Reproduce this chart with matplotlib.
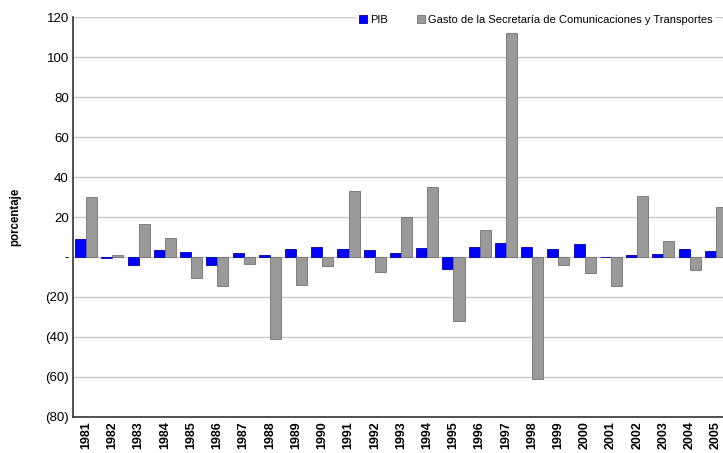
import numpy as np
import matplotlib
matplotlib.use("Agg")
from matplotlib import pyplot as plt

plt.rcParams['font.family'] = ['Liberation Sans', 'DejaVu Sans']

years = [str(y) for y in range(1981, 2006)]
pib = [8.8, -0.6, -4.2, 3.6, 2.6, -3.8, 1.9, 1.2, 4.2, 5.1, 4.2, 3.6, 2.0,
       4.4, -6.2, 5.2, 6.8, 5.0, 3.8, 6.6, -0.2, 0.8, 1.4, 4.2, 3.0]
gasto = [30.2, 0.8, 16.6, 9.5, -10.5, -14.7, -3.3, -40.8, -14.0, -4.7, 32.8,
         -7.3, 19.8, 34.8, -32.2, 13.3, 111.8, -61.0, -4.2, -8.0, -14.7,
         30.3, 8.2, -6.3, 24.8]
yticks = [120, 100, 80, 60, 40, 20, 0, -20, -40, -60, -80]
ytick_labels = ["120", "100", "80", "60", "40", "20", "-", "(20)", "(40)", "(60)", "(80)"]

fig = plt.figure(figsize=(7.23, 4.53), dpi=100)
ax = fig.add_axes([73 / 723, 36 / 453, 656 / 723, 400 / 453])

x = np.arange(len(years))
w = 0.42
ax.bar(x - w / 2, pib, w, color="#0000ff", edgecolor="#0000b0", linewidth=0.6,
       label="PIB", zorder=3)
ax.bar(x + w / 2, gasto, w, color="#9a9a9a", edgecolor="#707070", linewidth=0.6,
       label="Gasto de la Secretaría de Comunicaciones y Transportes", zorder=3)

ax.set_xlim(-0.5, len(years) - 0.5)
ax.set_ylim(-80, 120)
ax.set_yticks(yticks)
ax.set_yticklabels(ytick_labels, fontsize=9.5)
ax.set_xticks(x)
ax.set_xticklabels(years, rotation=90, fontsize=9, fontweight="bold")
ax.tick_params(axis="both", length=0, pad=3)
ax.yaxis.grid(True, color="#c8c8c8", linewidth=1, zorder=0)
for s in ["top", "right"]:
    ax.spines[s].set_visible(False)
ax.spines["left"].set_color("#333333")
ax.spines["bottom"].set_color("#333333")
ax.spines["left"].set_linewidth(1.2)
ax.spines["bottom"].set_linewidth(1.2)
ax.set_ylabel("porcentaje", fontsize=8.3, fontweight="bold", labelpad=17)

leg = ax.legend(loc="upper left", bbox_to_anchor=(351 / 723, 1 - 7 / 453),
                bbox_transform=fig.transFigure, ncol=2, frameon=True,
                fontsize=8, handlelength=0.75, handleheight=0.75,
                handletextpad=0.25, columnspacing=2.6, borderpad=0.2)
leg.get_frame().set_edgecolor("white")
leg.get_frame().set_facecolor("white")
leg.get_frame().set_alpha(1)

fig.savefig("out.png", dpi=100)
